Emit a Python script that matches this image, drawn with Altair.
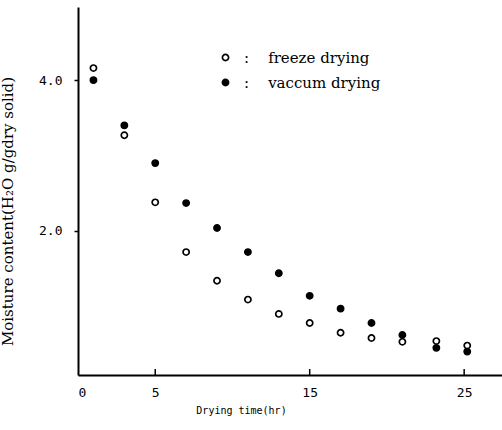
import altair as alt
import pandas as pd

# Data
times = [1, 3, 5, 7, 9, 11, 13, 15, 17, 19, 21, 23.2, 25.2]
freeze = [4.16, 3.27, 2.38, 1.72, 1.34, 1.09, 0.90, 0.78, 0.65, 0.58, 0.53, 0.54, 0.48]
vaccum = [4.00, 3.40, 2.90, 2.37, 2.04, 1.72, 1.44, 1.14, 0.97, 0.78, 0.62, 0.45, 0.40]
series_names = ["freeze drying", "vaccum drying"]
x_tick_values = [0, 5, 15, 25]
x_inner_ticks = [5, 15, 25]
y_tick_values = [2.0, 4.0]

rows = []
for t, f in zip(times, freeze):
    rows.append({"time": t, "moisture": f, "series": series_names[0]})
for t, v in zip(times, vaccum):
    rows.append({"time": t, "moisture": v, "series": series_names[1]})
df = pd.DataFrame(rows)
ticks_df = pd.DataFrame({"t": x_inner_ticks})

W, H = 424, 368
xscale = alt.Scale(domain=[0, 27.45], nice=False, zero=False)
yscale = alt.Scale(domain=[0.09, 4.97], nice=False, zero=False)

NB = "\u00a0"

points = alt.Chart(df).mark_point(
    shape="circle", size=38, strokeWidth=1.7, stroke="black", opacity=1
).encode(
    x=alt.X("time:Q", scale=xscale,
            axis=alt.Axis(values=x_tick_values, format="d", title="Drying time(hr)",
                          tickSize=0, labelPadding=11,
                          titleX=163, titleY=35, titleBaseline="middle",
                          titleFont="DejaVu Sans Mono", titleFontSize=10,
                          titleFontWeight="normal")),
    y=alt.Y("moisture:Q", scale=yscale,
            axis=alt.Axis(values=y_tick_values, format=".1f",
                          title="Moisture content(H₂O g/gdry solid)",
                          tickSize=4, labelPadding=12,
                          titleX=-63, titleY=204,
                          titleFont="DejaVu Serif", titleFontSize=15,
                          titleFontWeight="normal")),
    fill=alt.Fill("series:N",
                  scale=alt.Scale(domain=series_names, range=["white", "black"]),
                  legend=alt.Legend(
                      orient="none", legendX=140, legendY=43, title=None,
                      padding=0, symbolType="circle", symbolSize=38,
                      symbolStrokeColor="black", symbolStrokeWidth=1.7,
                      labelFont="DejaVu Serif", labelFontSize=15,
                      labelColor="black", labelOffset=11, rowPadding=9,
                      labelExpr="':" + NB * 4 + "' + datum.label",
                  )),
)

inner_ticks = alt.Chart(ticks_df).mark_rule(color="black", strokeWidth=1.5).encode(
    x=alt.X("t:Q", scale=xscale),
    y=alt.value(H),
    y2=alt.value(H - 6),
)

chart = alt.layer(points, inner_ticks).properties(
    width=W, height=H,
    autosize=alt.AutoSizeParams(type="none"),
    padding={"left": 78, "top": 7, "right": 0, "bottom": 55},
    background="white",
).configure_view(stroke=None).configure_axis(
    grid=False,
    domainColor="black", domainWidth=2,
    tickColor="black", tickWidth=1.5,
    labelFont="DejaVu Sans Mono", labelFontSize=13, labelColor="black",
    titleColor="black",
)

chart.save("out.html", embed_options={"renderer": "svg", "actions": False})
